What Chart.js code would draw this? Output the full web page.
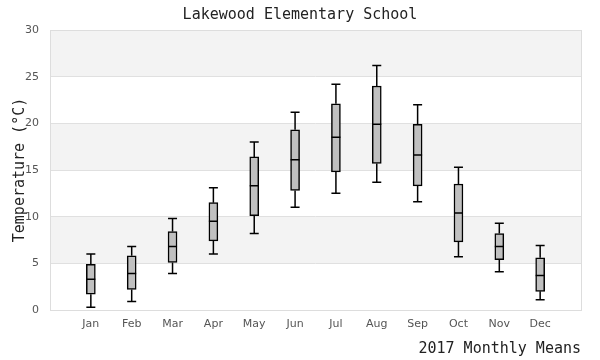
<!DOCTYPE html>
<html><head><meta charset="utf-8">
<script src="https://cdn.jsdelivr.net/npm/chart.js@4/dist/chart.umd.min.js"></script>
<style>html,body{margin:0;padding:0;background:#fff}#wrap{width:600px;height:360px}</style>
</head><body><div id="wrap"><canvas id="c" width="600" height="360"></canvas></div>
<script>
const months = ['Jan','Feb','Mar','Apr','May','Jun','Jul','Aug','Sep','Oct','Nov','Dec'];
const mins    = [0.3, 0.9, 3.9, 6.0, 8.2, 11.0, 12.5, 13.7, 11.6, 5.7, 4.1, 1.1];
const q1s     = [1.7, 2.2, 5.1, 7.4, 10.1, 12.8, 14.8, 15.7, 13.3, 7.3, 5.4, 2.0];
const medians = [3.3, 3.9, 6.8, 9.5, 13.3, 16.1, 18.5, 19.9, 16.6, 10.4, 6.8, 3.7];
const q3s     = [4.9, 5.8, 8.4, 11.5, 16.4, 19.3, 22.1, 24.0, 19.9, 13.5, 8.2, 5.6];
const maxs    = [6.0, 6.8, 9.8, 13.1, 18.0, 21.2, 24.2, 26.2, 22.0, 15.3, 9.3, 6.9];
const yTicks  = [0, 5, 10, 15, 20, 25, 30];

const labels = [''].concat(months, ['']);
const boxData = [null].concat(months.map((m,i)=>[q1s[i], q3s[i]]), [null]);

const bandPlugin = {
  id: 'bands',
  beforeDraw(chart) {
    const {ctx, chartArea:a, scales:{y}} = chart;
    ctx.save();
    for (let i = 0; i < yTicks.length - 1; i++) {
      if (i % 2 === 1) {
        const t = y.getPixelForValue(yTicks[i+1]);
        const b = y.getPixelForValue(yTicks[i]);
        ctx.fillStyle = '#f3f3f3';
        ctx.fillRect(a.left, t, a.right - a.left, b - t);
      }
    }
    ctx.restore();
  },
  beforeDatasetsDraw(chart) {
    const {ctx, chartArea:a} = chart;
    ctx.save();
    ctx.strokeStyle = '#dddddd';
    ctx.lineWidth = 1;
    ctx.strokeRect(Math.round(a.left)+0.5, Math.round(a.top)+0.5, Math.round(a.right-a.left), Math.round(a.bottom-a.top));
    ctx.restore();
  },
  afterDatasetsDraw(chart) {
    const {ctx, scales:{y}} = chart;
    const meta = chart.getDatasetMeta(0);
    ctx.save();
    ctx.strokeStyle = '#000';
    ctx.lineWidth = 1.5;
    meta.data.forEach((bar, idx) => {
      const i = idx - 1;
      if (i < 0 || i >= months.length) return;
      const x = bar.x, hw = bar.width / 2;
      const pMin = y.getPixelForValue(mins[i]);
      const pMax = y.getPixelForValue(maxs[i]);
      const pQ1 = y.getPixelForValue(q1s[i]);
      const pQ3 = y.getPixelForValue(q3s[i]);
      const pMed = y.getPixelForValue(medians[i]);
      ctx.beginPath();
      ctx.moveTo(x, pQ3); ctx.lineTo(x, pMax);
      ctx.moveTo(x - hw, pMax); ctx.lineTo(x + hw, pMax);
      ctx.moveTo(x, pQ1); ctx.lineTo(x, pMin);
      ctx.moveTo(x - hw, pMin); ctx.lineTo(x + hw, pMin);
      ctx.moveTo(x - hw, pMed); ctx.lineTo(x + hw, pMed);
      ctx.stroke();
    });
    ctx.restore();
  }
};

new Chart(document.getElementById('c'), {
  type: 'bar',
  data: {
    labels: labels,
    datasets: [{
      data: boxData,
      backgroundColor: '#c0c0c0',
      borderColor: '#000',
      borderWidth: 1.5,
      borderSkipped: false,
      barThickness: 9,
      yAxisID: 'y'
    }]
  },
  options: {
    responsive: false,
    animation: false,
    devicePixelRatio: 1,
    layout: { padding: 0 },
    plugins: {
      legend: { display: false },
      tooltip: { enabled: false },
      title: {
        display: true,
        text: 'Lakewood Elementary School',
        font: { family: 'DejaVu Sans Mono', size: 15, weight: 'normal', lineHeight: 1.2 },
        color: '#222',
        padding: { top: 6, bottom: 6 }
      }
    },
    scales: {
      x: {
        offset: false,
        grid: { display: false, drawTicks: false },
        border: { display: false },
        afterFit(s) { s.height = 50; },
        ticks: { color: '#555', font: { family: 'DejaVu Sans', size: 11 }, padding: 8, autoSkip: false, maxRotation: 0 },
        title: {
          display: true, text: '2017 Monthly Means', align: 'end',
          font: { family: 'DejaVu Sans Mono', size: 15, lineHeight: 1.2 }, color: '#222',
          padding: { top: 0, bottom: 2 }
        }
      },
      y: {
        min: 0, max: 30,
        position: 'left',
        grid: { color: '#e0e0e0', drawTicks: false },
        border: { display: false },
        afterFit(s) { s.width = 50; },
        afterBuildTicks(scale) { scale.ticks = yTicks.map(v => ({ value: v })); },
        ticks: { color: '#555', font: { family: 'DejaVu Sans', size: 11 }, padding: 11 },
        title: {
          display: true, text: 'Temperature (°C)',
          font: { family: 'DejaVu Sans Mono', size: 15, lineHeight: 1.2 }, color: '#222',
          padding: { top: 11, bottom: 0 }
        }
      },
      yR: {
        position: 'right',
        display: true,
        grid: { display: false, drawTicks: false },
        border: { display: false },
        ticks: { display: false },
        afterFit(s) { s.width = 19; }
      }
    }
  },
  plugins: [bandPlugin]
});
</script></body></html>
